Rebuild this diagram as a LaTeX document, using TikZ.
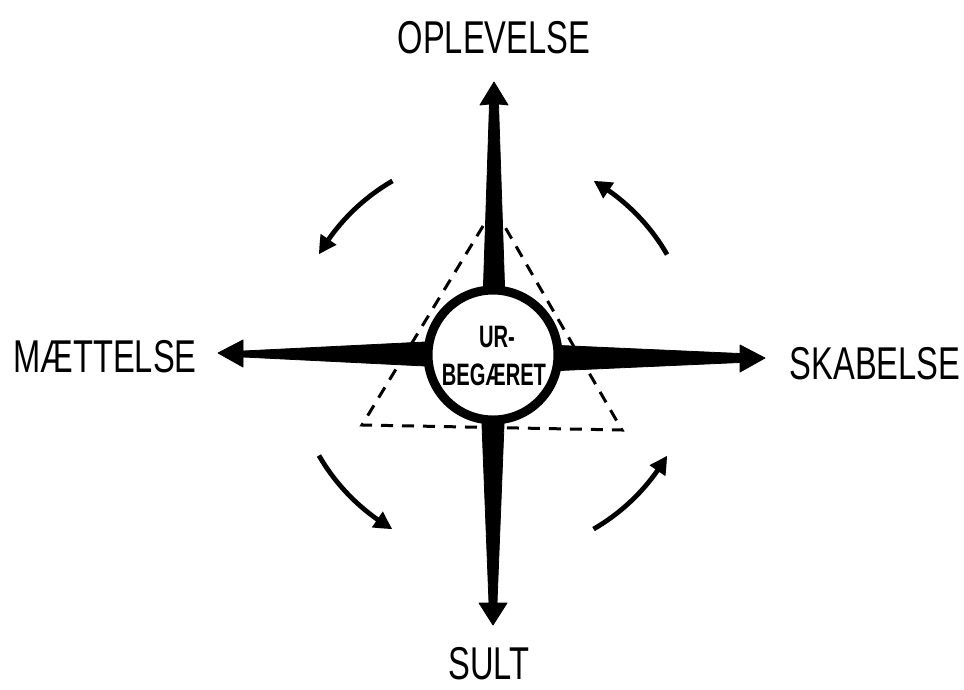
\documentclass[tikz,border=0pt]{standalone}
\usepackage{fontspec}
\newfontfamily\letfont[FakeStretch=0.71]{Liberation Sans}
\newfontfamily\innerfont[FakeStretch=0.65]{Liberation Sans Bold}
\usetikzlibrary{arrows.meta,bending}
\tikzset{
  label/.style={inner sep=0pt, anchor=base, font=\letfont\fontsize{46}{46}\selectfont},
  innerlabel/.style={inner sep=0pt, anchor=base, font=\innerfont\fontsize{31}{31}\selectfont},
  armshape/.style={fill=black, draw=black, line width=0.8pt, line join=round},
  turnarrow/.style={line width=4.8pt, -{Triangle[length=18pt,width=18pt,bend]}},
  trianglestyle/.style={line width=3pt, dash pattern=on 12pt off 9pt},
  corestyle/.style={circle, draw=black, fill=white, line width=9pt, minimum size=130pt, inner sep=0pt}
}
\begin{document}
\begin{tikzpicture}[x=1pt,y=-1pt]
\useasboundingbox (0,0) rectangle (964,689);
\fill[white] (0,0) rectangle (964,689);
\coordinate (c) at (493,355);
% dashed triangle
\draw[trianglestyle] (494,208) -- (362,425) -- (622,430) -- cycle;
% top arm
\fill[armshape] (494,82) -- (480,105) -- (489.5,104) -- (483,300) -- (483,355) -- (505,355) -- (505,300) -- (498.5,104) -- (508,105) -- cycle;
% bottom arm
\fill[armshape] (482,355) -- (482,425) -- (489,603) -- (479,603) -- (493,625) -- (507,603) -- (497,603) -- (504,425) -- (504,355) -- cycle;
% left arm
\fill[armshape] (218,353) -- (243,340) -- (243,351) -- (425,342) -- (493,342) -- (493,366) -- (425,366) -- (243,357) -- (243,367) -- cycle;
% right arm
\fill[armshape] (765,358) -- (740,345) -- (740,353.5) -- (560,345.5) -- (493,345.5) -- (493,370.5) -- (560,370.5) -- (740,362.5) -- (740,372) -- cycle;
% core circle
\node[corestyle] (core) at (c) {};
\node[innerlabel] (ur) at (497,347) {UR-};
\node[innerlabel] (beg) at (494,385) {BEGÆRET};
% labels
\node[label] (opl) at (494,53) {OPLEVELSE};
\node[label] (maet) at (105,372) {MÆTTELSE};
\node[label] (skab) at (875,379) {SKABELSE};
\node[label] (sult) at (489,679) {SULT};
% turning arrows
\draw[turnarrow] ([shift={(-120:201)}]c) arc[start angle=-120, end angle=-150, radius=201];
\draw[turnarrow] ([shift={(-30:201)}]c) arc[start angle=-30, end angle=-60, radius=201];
\draw[turnarrow] ([shift={(-210:201)}]c) arc[start angle=-210, end angle=-240, radius=201];
\draw[turnarrow] ([shift={(-300:201)}]c) arc[start angle=-300, end angle=-330, radius=201];
\end{tikzpicture}
\end{document}
